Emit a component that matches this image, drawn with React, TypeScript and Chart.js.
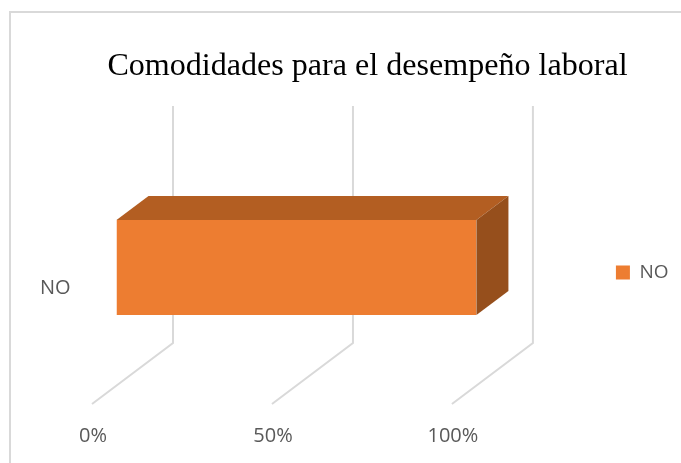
import React, { useEffect, useRef } from "react";
import { Chart, registerables } from "chart.js";

Chart.register(...registerables);

const categories = ["NO"];
const seriesName = "NO";
const seriesValues = [100];
const chartTitle = "Comodidades para el desempeño laboral";
const axisTicks = [0, 50, 100];

const FRONT = "#ED7D31";
const TOP = "#B35E22";
const SIDE = "#964F1C";
const GRID = "#D9D9D9";
const TEXT = "#595959";
const LABEL_FONT = "'Open Sans', sans-serif";

// Depth of the box and of the walls behind it, relative to the front plane of the bar.
const BAR_DEPTH = { dx: 32, dy: -24 };
const WALL = { dx: 56.5, top: 106, bottom: 343 };
const FLOOR = { dx: -24.5, bottom: 404 };

// Walls and floor lines sit behind the bar, one per value tick.
const wallPlugin = {
  id: "wall",
  beforeDatasetsDraw(chart: Chart) {
    const { ctx } = chart;
    const xScale = chart.scales.x;
    ctx.save();
    ctx.strokeStyle = GRID;
    ctx.lineWidth = 2;
    ctx.lineJoin = "miter";
    xScale.ticks.forEach((_t: unknown, i: number) => {
      const px = xScale.getPixelForTick(i);
      ctx.beginPath();
      ctx.moveTo(px + WALL.dx, WALL.top);
      ctx.lineTo(px + WALL.dx, WALL.bottom);
      ctx.lineTo(px + FLOOR.dx, FLOOR.bottom);
      ctx.stroke();
    });
    ctx.restore();
  },
  afterDatasetsDraw(chart: Chart) {
    const { ctx } = chart;
    chart.getDatasetMeta(0).data.forEach((bar: any) => {
      const { x, y, base, height } = bar.getProps(["x", "y", "base", "height"], true);
      const top = y - height / 2;
      const bottom = y + height / 2;
      ctx.fillStyle = TOP;
      ctx.beginPath();
      ctx.moveTo(base, top);
      ctx.lineTo(base + BAR_DEPTH.dx, top + BAR_DEPTH.dy);
      ctx.lineTo(x + BAR_DEPTH.dx, top + BAR_DEPTH.dy);
      ctx.lineTo(x, top);
      ctx.closePath();
      ctx.fill();
      ctx.fillStyle = SIDE;
      ctx.beginPath();
      ctx.moveTo(x, top);
      ctx.lineTo(x + BAR_DEPTH.dx, top + BAR_DEPTH.dy);
      ctx.lineTo(x + BAR_DEPTH.dx, bottom + BAR_DEPTH.dy);
      ctx.lineTo(x, bottom);
      ctx.closePath();
      ctx.fill();
    });
  },
  // Outer frame of the chart, open towards the right and the bottom.
  beforeDraw(chart: Chart) {
    const { ctx } = chart;
    ctx.save();
    ctx.strokeStyle = GRID;
    ctx.lineWidth = 2;
    ctx.beginPath();
    ctx.moveTo(10, 463);
    ctx.lineTo(10, 12);
    ctx.lineTo(681, 12);
    ctx.stroke();
    ctx.restore();
  },
};

export default function App() {
  const ref = useRef<HTMLCanvasElement>(null);
  useEffect(() => {
    const chart = new Chart(ref.current!, {
      type: "bar",
      data: {
        labels: categories,
        datasets: [
          {
            label: seriesName,
            data: seriesValues,
            backgroundColor: FRONT,
            barPercentage: 1,
            categoryPercentage: 0.664,
          },
        ],
      },
      options: {
        indexAxis: "y",
        animation: false,
        responsive: false,
        layout: { padding: { left: 56.5, right: 2.5, top: 0, bottom: 0 } },
        scales: {
          x: {
            min: 0,
            max: 100,
            grid: { display: false },
            border: { display: false },
            afterBuildTicks(scale: any) {
              scale.ticks = axisTicks.map((value) => ({ value }));
            },
            afterFit(scale: any) {
              scale.height = 124;
            },
            ticks: {
              color: TEXT,
              font: { family: LABEL_FONT, size: 20 },
              padding: 77,
              labelOffset: -23.5,
              maxRotation: 0,
              callback: (v: any) => `${v}%`,
            },
          },
          y: {
            grid: { display: false },
            border: { display: false },
            afterFit(scale: any) {
              scale.width = 60;
            },
            ticks: {
              color: TEXT,
              font: { family: LABEL_FONT, size: 20 },
              mirror: true,
              padding: -76.5,
              labelOffset: 21,
            },
          },
          // Empty axis that keeps the legend clear of the plot.
          legendGap: {
            type: "linear",
            axis: "y",
            position: "right",
            grid: { display: false },
            border: { display: false },
            ticks: { display: false },
            afterFit(scale: any) {
              scale.width = 131.5;
            },
          },
        },
        plugins: {
          title: {
            display: true,
            text: chartTitle,
            color: "#000000",
            font: { family: "'Liberation Serif', serif", size: 32.1, weight: "normal" },
            padding: { top: 47.5, bottom: 110 },
          },
          legend: {
            position: "right",
            fullSize: false,
            // A blank legend title lowers the entry to the height of the bar's centre.
            title: {
              display: true,
              text: " ",
              font: { size: 1 },
              padding: { top: 0, bottom: 8.8 },
            },
            labels: {
              color: TEXT,
              font: { family: LABEL_FONT, size: 19 },
              boxWidth: 14,
              boxHeight: 14,
              padding: 8,
            },
          },
          tooltip: { enabled: false },
        },
      },
      plugins: [wallPlugin],
    });
    return () => chart.destroy();
  }, []);
  return (
    <div style={{ position: "fixed", left: 0, top: 0, width: 681, height: 463, background: "#fff" }}>
      <canvas ref={ref} width={681} height={463} style={{ display: "block" }} />
    </div>
  );
}
